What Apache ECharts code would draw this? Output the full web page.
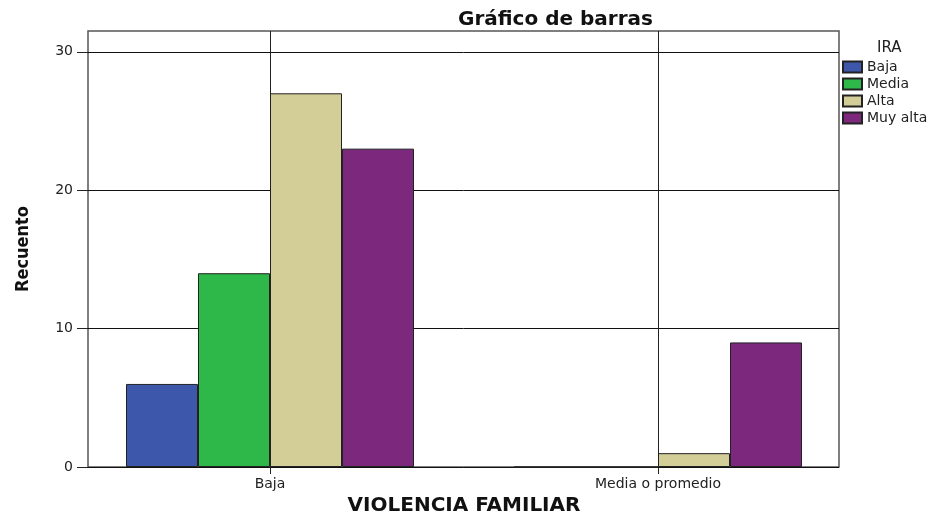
<!DOCTYPE html>
<html>
<head>
<meta charset="utf-8">
<script src="https://cdn.jsdelivr.net/npm/echarts@6/dist/echarts.min.js"></script>
<style>
  html, body { margin: 0; padding: 0; background: #fff; }
  #chart { width: 942px; height: 516px; }
</style>
</head>
<body>
<div id="chart"></div>
<script>
// categorias del eje X (violencia familiar) y niveles de IRA
const categorias = ["Baja", "Media o promedio"];
const niveles = ["Baja", "Media", "Alta", "Muy alta"];
const colores = ["#3d58ab", "#2fb84a", "#d3ce98", "#7c287c"];

// recuento por nivel de IRA, un valor por categoria
const recuentoBaja = [6, 0];
const recuentoMedia = [14, 0];
const recuentoAlta = [27, 1];
const recuentoMuyAlta = [23, 9];
const valores = [recuentoBaja, recuentoMedia, recuentoAlta, recuentoMuyAlta];

const ticksY = [0, 10, 20, 30];

const fuente = "'DejaVu Sans', 'Liberation Sans', sans-serif";

const chart = echarts.init(document.getElementById("chart"));

const series = niveles.map((nombre, i) => ({
  name: nombre,
  type: "bar",
  xAxisIndex: 1,
  yAxisIndex: 1,
  barWidth: 72,
  barGap: "0%",
  data: valores[i],
  itemStyle: { color: colores[i], borderColor: "#222", borderWidth: 1 },
  emphasis: { disabled: true },
  z: 3
}));

// lineas verticales en el centro de cada categoria (estilo SPSS)
series.push({
  type: "line",
  xAxisIndex: 1,
  yAxisIndex: 1,
  data: [],
  silent: true,
  markLine: {
    silent: true,
    symbol: "none",
    label: { show: false },
    lineStyle: { color: "#222", type: "solid", width: 1 },
    data: categorias.map(c => ({ xAxis: c }))
  },
  z: 4
});

const option = {
  backgroundColor: "#fff",
  animation: false,
  title: [{
    text: "Gráfico de barras",
    left: 453,
    top: 5,
    textStyle: { fontFamily: fuente, fontSize: 20, fontWeight: "bold", color: "#111" }
  }, {
    text: "IRA",
    left: 872,
    top: 36,
    textStyle: { fontFamily: fuente, fontSize: 15, fontWeight: "normal", color: "#222" }
  }],
  legend: {
    orient: "vertical",
    left: 842,
    top: 60,
    padding: 0,
    itemWidth: 19,
    itemHeight: 11,
    itemGap: 3,
    icon: "rect",
    selectedMode: false,
    textStyle: { fontFamily: fuente, fontSize: 14, color: "#222" },
    data: niveles
  },
  grid: [
    { left: 88, top: 31, width: 751, height: 436, show: true, borderColor: "#555", borderWidth: 1.5, backgroundColor: "#fff", outerBoundsMode: "none", containLabel: false },
    { left: 76, top: 31, width: 776, height: 436, outerBoundsMode: "none", containLabel: false }
  ],
  xAxis: [{
    gridIndex: 0,
    type: "category",
    data: categorias,
    show: false
  }, {
    gridIndex: 1,
    type: "category",
    data: categorias,
    axisLine: { show: false },
    axisTick: { show: true, alignWithLabel: true, length: 7, lineStyle: { color: "#222" } },
    axisLabel: { fontFamily: fuente, fontSize: 14, color: "#222", margin: 10 },
    splitLine: { show: false },
    name: "VIOLENCIA FAMILIAR",
    nameLocation: "middle",
    nameGap: 29,
    nameMoveOverlap: false,
    nameTextStyle: { fontFamily: fuente, fontSize: 20, fontWeight: "bold", color: "#111" }
  }],
  yAxis: [{
    gridIndex: 0,
    type: "value",
    min: 0,
    max: 31.5,
    interval: 10,
    axisLine: { show: false },
    axisTick: { show: true, length: 11, customValues: ticksY, lineStyle: { color: "#222" } },
    axisLabel: { fontFamily: fuente, fontSize: 14, color: "#222", margin: 15, customValues: ticksY },
    splitLine: { show: true, lineStyle: { color: "#111", width: 1 } },
    name: "Recuento",
    nameLocation: "middle",
    nameRotate: 90,
    nameGap: 56,
    nameMoveOverlap: false,
    nameTextStyle: { fontFamily: "'DejaVu Sans Condensed', 'Liberation Sans Narrow', sans-serif", fontSize: 18, fontWeight: "bold", color: "#111" }
  }, {
    gridIndex: 1,
    type: "value",
    min: 0,
    max: 31.5,
    show: false
  }],
  series: series
};

chart.setOption(option);
</script>
</body>
</html>
